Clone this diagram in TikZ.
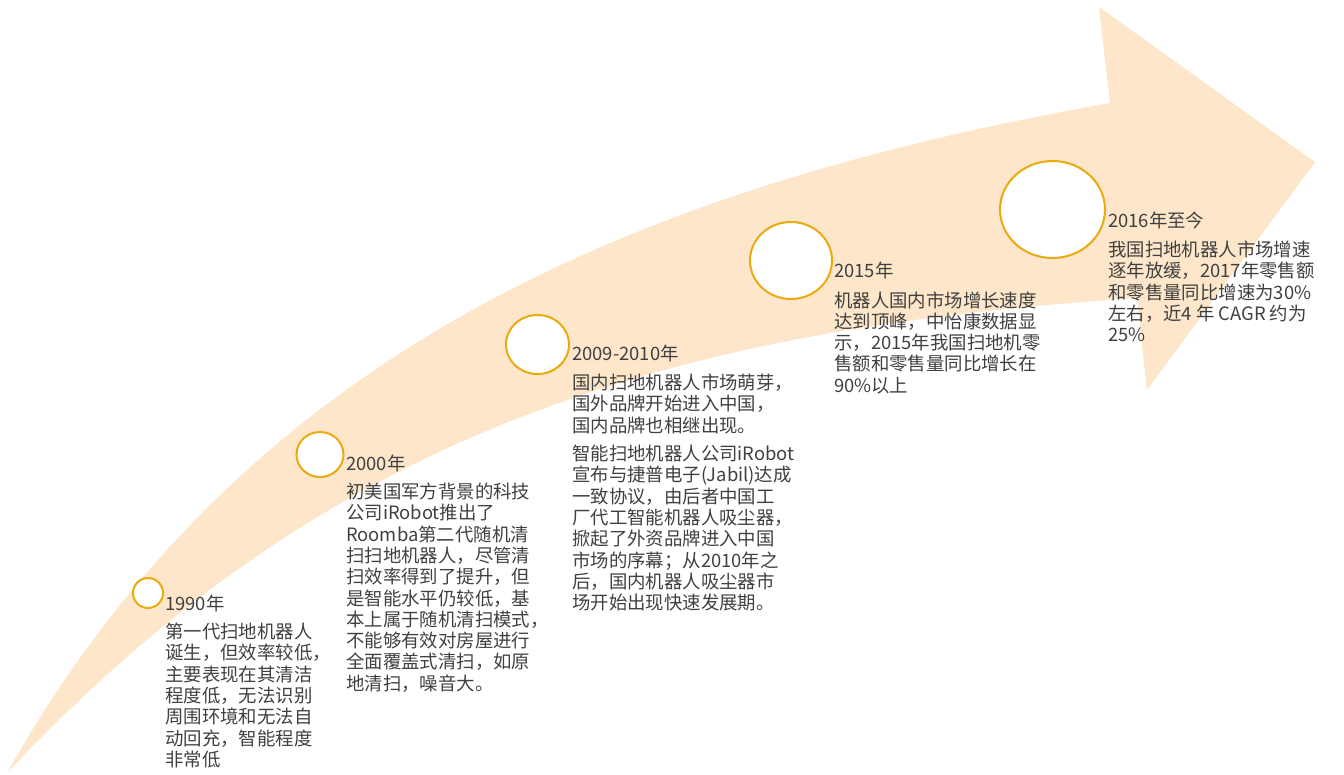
\documentclass[tikz,border=0pt]{standalone}
\usepackage{fontspec}
\newfontfamily\cjk{Noto Sans CJK SC}
\definecolor{bandfill}{HTML}{FDE6CA}
\definecolor{ringcol}{HTML}{EAAA10}
\definecolor{txtcol}{HTML}{404040}
\tikzset{
  ring/.style={draw=ringcol, line width=2pt, fill=white},
  yearlabel/.style={anchor=base west, inner sep=0pt, text=txtcol, font=\cjk\fontsize{18.4}{21.3}\selectfont},
  % anchor = baseline of the LAST line of a multi-line node
  bodytext/.style={anchor=base west, inner sep=0pt, align=left, text=txtcol, font=\cjk\fontsize{18.4}{21.3}\selectfont},
}
\begin{document}
\begin{tikzpicture}[x=1pt,y=-1pt]
\useasboundingbox (0,0) rectangle (1344,774);
% curved arrow
\fill[bandfill] (7,773) .. controls (240,360) and (620,190) .. (1110,103)
  -- (1099,7) -- (1315,162) -- (1147,390) -- (1137,298)
  .. controls (650,330) and (320,440) .. (7,773) -- cycle;
% circles
\draw[ring] (148,593) ellipse [x radius=15, y radius=15];
\node[inner sep=0pt] (c1) at (148,593) {};
\draw[ring] (320,454.5) ellipse [x radius=23.5, y radius=22.5];
\node[inner sep=0pt] (c2) at (320,454.5) {};
\draw[ring] (537.5,344.5) ellipse [x radius=31.5, y radius=29.5];
\node[inner sep=0pt] (c3) at (537.5,344.5) {};
\draw[ring] (791,260.5) ellipse [x radius=41, y radius=38.5];
\node[inner sep=0pt] (c4) at (791,260.5) {};
\draw[ring] (1052.5,209.5) ellipse [x radius=52.5, y radius=48.5];
\node[inner sep=0pt] (c5) at (1052.5,209.5) {};
% 1990
\node[yearlabel] (y1) at (165,610.5) {1990年};
\node[bodytext] (t1) at (165,766.3) {第一代扫地机器人\\诞生，但效率较低，\\主要表现在其清洁\\程度低，无法识别\\周围环境和无法自\\动回充，智能程度\\非常低};
% 2000
\node[yearlabel] (y2) at (346,470.5) {2000年};
\node[bodytext] (t2) at (346,690.2) {初美国军方背景的科技\\公司iRobot推出了\\Roomba第二代随机清\\扫扫地机器人，尽管清\\扫效率得到了提升，但\\是智能水平仍较低，基\\本上属于随机清扫模式，\\不能够有效对房屋进行\\全面覆盖式清扫，如原\\地清扫，噪音大。};
% 2009-2010
\node[yearlabel] (y3) at (572,360.5) {2009-2010年};
\node[bodytext] (t3a) at (572,432.1) {国内扫地机器人市场萌芽，\\国外品牌开始进入中国，\\国内品牌也相继出现。};
\node[bodytext] (t3b) at (572,609.6) {智能扫地机器人公司iRobot\\宣布与捷普电子(Jabil)达成\\一致协议，由后者中国工\\厂代工智能机器人吸尘器，\\掀起了外资品牌进入中国\\市场的序幕；从2010年之\\后，国内机器人吸尘器市\\场开始出现快速发展期。};
% 2015
\node[yearlabel] (y4) at (834,277) {2015年};
\node[bodytext] (t4) at (834,392.2) {机器人国内市场增长速度\\达到顶峰，中怡康数据显\\示，2015年我国扫地机零\\售额和零售量同比增长在\\90\%以上};
% 2016
\node[yearlabel] (y5) at (1108,227) {2016年至今};
\node[bodytext] (t5) at (1108,341.7) {我国扫地机器人市场增速\\逐年放缓，2017年零售额\\和零售量同比增速为30\%\\左右，近4 年 CAGR 约为\\25\%};
\end{tikzpicture}
\end{document}
